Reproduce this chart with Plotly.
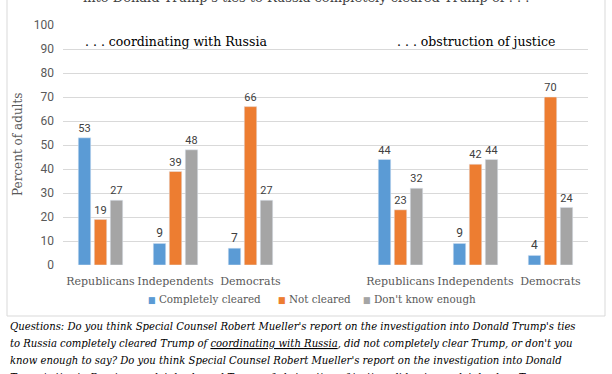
import plotly.graph_objects as go

# ---- data ----
groups = ["Republicans", "Independents", "Democrats"]
panels = [". . . coordinating with Russia", ". . . obstruction of justice"]
series_names = ["Completely cleared", "Not cleared", "Don't know enough"]
coord_cleared = [53, 9, 7]
coord_not = [19, 39, 66]
coord_dk = [27, 48, 27]
obstr_cleared = [44, 9, 4]
obstr_not = [23, 42, 70]
obstr_dk = [32, 44, 24]
y_ticks = [0, 10, 20, 30, 40, 50, 60, 70, 80, 90, 100]
colors = ["#5B9BD5", "#ED7D31", "#A5A5A5"]

# category slots: panel 1 at 0..2, blank slot 3, panel 2 at 4..6
xpos = [0, 1, 2, 4, 5, 6]
tick_text = groups + groups
series_vals = [coord_cleared + obstr_cleared,
               coord_not + obstr_not,
               coord_dk + obstr_dk]

W, H = 612, 374
L, R, T, B = 63, 24, 25, 109
PW, PH = W - L - R, H - T - B

def px_x(x):
    return (x - L) / PW

def px_y(y):
    return (H - B - y) / PH

SERIF = "DejaVu Serif"
COND = "DejaVu Serif Condensed, DejaVu Serif"
SANS = "Roboto"

fig = go.Figure()
for name, vals, c in zip(series_names, series_vals, colors):
    fig.add_trace(go.Bar(
        x=xpos, y=vals, name=name, marker_color=c,
        text=[str(v) for v in vals], textposition="outside",
        textfont=dict(family=SANS, size=12, color="#404040"),
        cliponaxis=False, showlegend=False,
    ))

annotations = []
# panel labels
for xc, label in zip([1, 5], panels):
    annotations.append(dict(x=xc, y=px_y(41), xref="x", yref="paper", text=label,
                            showarrow=False, font=dict(family=SERIF, size=12.5, color="#000000"),
                            xanchor="center", yanchor="middle"))
# top (cut) title
annotations.append(dict(x=px_x(306), y=px_y(-2), xref="paper", yref="paper",
                        text="into Donald Trump's ties to Russia completely cleared Trump of . . .",
                        showarrow=False, font=dict(family=SERIF, size=13, color="#404040"),
                        xanchor="center", yanchor="middle"))
# y axis title
annotations.append(dict(x=px_x(18), y=px_y(145), xref="paper", yref="paper",
                        text="Percent of adults", textangle=-90, showarrow=False,
                        font=dict(family=SERIF, size=12, color="#595959"),
                        xanchor="center", yanchor="middle"))
# legend (square + label)
legend_x = [146, 276, 361]
for name, c, lx in zip(series_names, colors, legend_x):
    annotations.append(dict(x=px_x(lx), y=px_y(299), xref="paper", yref="paper",
                            text='<span style="color:%s;font-size:9px">■</span> %s' % (c, name),
                            showarrow=False, font=dict(family=COND, size=11.5, color="#595959"),
                            xanchor="left", yanchor="middle"))
# caption
u = '<span style="text-decoration:underline">{}</span>'
caption_lines = [
    "Questions: Do you think Special Counsel Robert Mueller's report on the investigation into Donald Trump's ties",
    "to Russia completely cleared Trump of " + u.format("coordinating with Russia") + ", did not completely clear Trump, or don't you",
    "know enough to say? Do you think Special Counsel Robert Mueller's report on the investigation into Donald",
    "Trump's ties to Russia completely cleared Trump of " + u.format("obstruction of justice") + ", did not completely clear Trump, or",
]
for i, line in enumerate(caption_lines):
    annotations.append(dict(x=px_x(8), y=px_y(326 + 17 * i), xref="paper", yref="paper",
                            text="<i>" + line + "</i>", showarrow=False,
                            font=dict(family=COND, size=11.2, color="#000000"),
                            xanchor="left", yanchor="middle", align="left"))

shapes = [dict(type="rect", xref="paper", yref="paper",
               x0=px_x(7), x1=px_x(605), y0=px_y(316), y1=px_y(-10),
               line=dict(color="#D9D9D9", width=1), fillcolor="rgba(0,0,0,0)")]

fig.update_layout(
    width=W, height=H,
    margin=dict(l=L, r=R, t=T, b=B),
    paper_bgcolor="white", plot_bgcolor="white",
    barmode="group", bargap=0.36, bargroupgap=0.22,
    showlegend=False,
    xaxis=dict(range=[-0.5, 6.5], tickmode="array", tickvals=xpos, ticktext=tick_text,
               showgrid=False, zeroline=False, showline=False, ticks="",
               ticklabelstandoff=8,
               tickfont=dict(family=SERIF, size=11, color="#595959")),
    yaxis=dict(range=[0, 100], tickmode="array", tickvals=y_ticks,
               showgrid=True, gridcolor="#D9D9D9", gridwidth=1, zeroline=False,
               showline=False, ticks="", ticklabelstandoff=8,
               tickfont=dict(family=SANS, size=12, color="#595959")),
    annotations=annotations, shapes=shapes,
)
fig.write_html("out.html", config={"displayModeBar": False},
               post_script="document.body.style.margin='0';document.body.style.padding='0';")
